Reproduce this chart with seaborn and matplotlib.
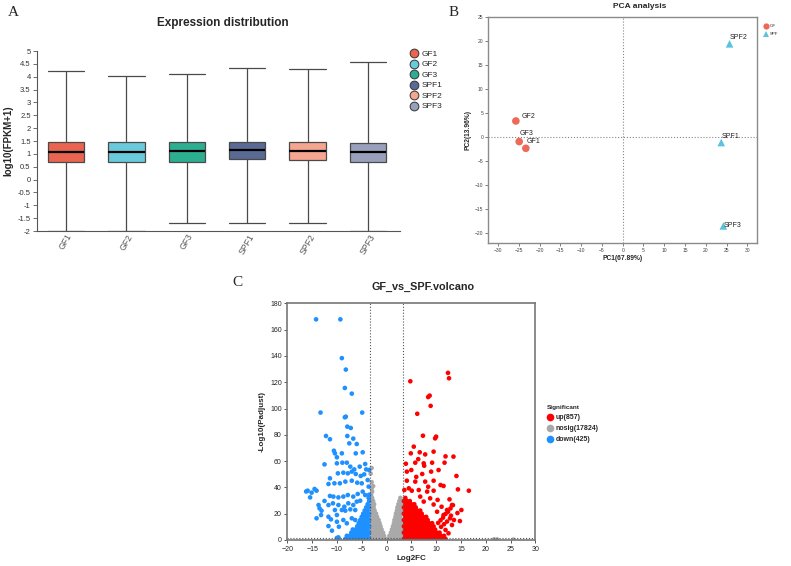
import numpy as np
import pandas as pd
import matplotlib
matplotlib.use('Agg')
import matplotlib.pyplot as plt
import seaborn as sns
from matplotlib.lines import Line2D

sns.set_theme(style='white')
plt.rcParams['font.family'] = ['Liberation Sans', 'DejaVu Sans']

# ---------------- Panel A data: box summary values
samples = ['GF1', 'GF2', 'GF3', 'SPF1', 'SPF2', 'SPF3']
box_min = [-2.0, -2.0, -1.70, -1.70, -1.70, -2.0]
box_q1 = [0.67, 0.67, 0.68, 0.79, 0.78, 0.70]
box_med = [1.08, 1.07, 1.10, 1.15, 1.12, 1.07]
box_q3 = [1.47, 1.47, 1.47, 1.47, 1.46, 1.44]
box_max = [4.22, 4.04, 4.12, 4.34, 4.29, 4.56]
box_colors = ['#E9654F', '#6BC9DC', '#2DAE91', '#596A95', '#F4A690', '#98A0BB']

# ---------------- Panel B data: PCA scores
pca_group = ['GF', 'GF', 'GF', 'SPF', 'SPF', 'SPF']
pc1 = [-23.3, -25.7, -24.9, 23.7, 25.7, 24.2]
pc2 = [-2.3, 3.4, -0.9, -1.1, 19.5, -18.5]

# ---------------- Panel C data: volcano points
up_pts = [
    (4.8, 120.7), (12.4, 127.1), (12.6, 123.0), (8.4, 108.7), (8.7, 109.8), (8.9, 102.0), (6.2, 96.0),
    (7.35, 79.3), (10.0, 78.6), (9.8, 77.3), (5.5, 71.0), (6.7, 66.7), (9.5, 67.2), (4.9, 65.9), (7.8, 65.1),
    (13.5, 63.4), (11.9, 63.6), (5.8, 58.8), (7.5, 58.3), (7.6, 56.5), (9.2, 58.8), (11.7, 58.8), (4.1, 52.0),
    (5.0, 53.2), (7.2, 50.2), (9.0, 52.0), (10.5, 53.2), (14.1, 48.7), (4.1, 45.1), (5.8, 44.4), (7.8, 44.4),
    (9.5, 45.1), (10.9, 41.8), (11.5, 41.1), (3.6, 38.0), (4.5, 39.3), (5.1, 37.5), (6.5, 38.0), (8.2, 36.8),
    (9.5, 37.5), (14.4, 38.5), (16.6, 37.5), (12.7, 30.9), (15.1, 22.8), (13.2, 26.6), (12.2, 22.8),
    (11.5, 19.0), (13.6, 15.2), (14.8, 14.4), (13.2, 11.4), (11.9, 7.6), (12.5, 5.1), (11.1, 25.3),
    (10.2, 21.5), (6.8, 33.0), (8.8, 31.7), (7.5, 29.2), (9.5, 27.0), (10.3, 30.5), (8.4, 40.5), (6.0, 48.0),
    (3.9, 58.0), (6.4, 61.5), (13.0, 18.5), (14.3, 20.5),
    (10.4, 13.0), (10.9, 15.0), (11.4, 17.0), (11.9, 19.8), (12.4, 21.5), (12.9, 24.0), (13.4, 26.5),
    (11.0, 10.0), (11.6, 12.0), (12.2, 14.0), (12.8, 16.5),
    (3.5, 0.8), (4.1, 0.8), (4.7, 0.8), (5.3, 0.8), (5.9, 0.8), (6.5, 0.8), (7.1, 0.8), (7.7, 0.8), (8.3, 0.8),
    (8.9, 0.8), (9.5, 0.8), (10.1, 0.8), (10.7, 0.8), (11.3, 0.8), (11.9, 0.8),
    (3.8, 3.2), (4.4, 3.2), (5.0, 3.2), (5.6, 3.2), (6.2, 3.2), (6.8, 3.2), (7.4, 3.2), (8.0, 3.2), (8.6, 3.2),
    (9.2, 3.2), (9.8, 3.2), (10.4, 3.2), (11.0, 3.2), (11.6, 3.2),
    (3.5, 5.6), (4.1, 5.6), (4.7, 5.6), (5.3, 5.6), (5.9, 5.6), (6.5, 5.6), (7.1, 5.6), (7.7, 5.6), (8.3, 5.6),
    (8.9, 5.6), (9.5, 5.6), (10.1, 5.6), (10.7, 5.6),
    (3.8, 8.0), (4.4, 8.0), (5.0, 8.0), (5.6, 8.0), (6.2, 8.0), (6.8, 8.0), (7.4, 8.0), (8.0, 8.0), (8.6, 8.0),
    (9.2, 8.0), (9.8, 8.0),
    (3.5, 10.4), (4.1, 10.4), (4.7, 10.4), (5.3, 10.4), (5.9, 10.4), (6.5, 10.4), (7.1, 10.4), (7.7, 10.4),
    (8.3, 10.4), (8.9, 10.4), (9.5, 10.4),
    (3.8, 12.8), (4.4, 12.8), (5.0, 12.8), (5.6, 12.8), (6.2, 12.8), (6.8, 12.8), (7.4, 12.8), (8.0, 12.8),
    (8.6, 12.8), (9.2, 12.8),
    (3.5, 15.2), (4.1, 15.2), (4.7, 15.2), (5.3, 15.2), (5.9, 15.2), (6.5, 15.2), (7.1, 15.2), (7.7, 15.2),
    (8.3, 15.2),
    (3.8, 17.6), (4.4, 17.6), (5.0, 17.6), (5.6, 17.6), (6.2, 17.6), (6.8, 17.6), (7.4, 17.6), (8.0, 17.6),
    (3.5, 20.0), (4.1, 20.0), (4.7, 20.0), (5.3, 20.0), (5.9, 20.0), (6.5, 20.0), (7.1, 20.0),
    (3.8, 22.4), (4.4, 22.4), (5.0, 22.4), (5.6, 22.4), (6.2, 22.4), (6.8, 22.4),
    (3.5, 24.8), (4.1, 24.8), (4.7, 24.8), (5.3, 24.8), (5.9, 24.8),
    (3.8, 27.2), (4.4, 27.2), (5.0, 27.2), (5.6, 27.2),
    (3.5, 29.6), (4.1, 29.6), (4.7, 29.6),
    (3.8, 32.0),
]

down_pts = [
    (-14.2, 167.8), (-9.3, 167.8), (-9.0, 138.3), (-8.2, 129.6), (-8.4, 115.6), (-7.0, 111.3), (-13.3, 96.9),
    (-4.9, 96.9), (-8.4, 93.3), (-8.2, 93.8), (-7.9, 86.2), (-7.2, 85.2),
    (-12.2, 79.1), (-11.4, 76.6), (-7.9, 79.1), (-6.7, 77.1), (-7.5, 73.5), (-6.0, 73.0), (-10.6, 67.9),
    (-10.4, 65.9), (-9.0, 65.9), (-6.2, 65.9), (-4.8, 66.7), (-12.5, 57.5), (-10.0, 62.9), (-10.0, 58.3),
    (-8.9, 58.8), (-8.0, 58.8), (-7.3, 55.8), (-6.5, 53.7), (-5.4, 55.8), (-4.3, 57.8), (-4.1, 53.7),
    (-3.5, 53.2), (-9.8, 50.7), (-8.7, 51.2), (-7.8, 50.7), (-7.0, 52.0), (-6.2, 50.2), (-5.2, 48.7),
    (-4.5, 49.9), (-11.4, 46.9), (-11.7, 42.6), (-10.5, 43.1), (-9.4, 43.1), (-8.3, 44.4), (-7.0, 45.1),
    (-5.9, 43.6), (-5.0, 43.1), (-3.8, 45.6), (-3.6, 40.6), (-15.9, 37.5), (-15.1, 36.0), (-14.5, 38.8),
    (-14.1, 37.5), (-15.4, 32.4), (-16.2, 36.9), (-12.5, 29.7), (-11.4, 33.5), (-10.7, 33.0), (-9.7, 32.4),
    (-8.7, 33.0), (-7.8, 34.2), (-6.7, 33.0), (-5.8, 35.0), (-4.8, 36.8), (-4.3, 34.2), (-13.7, 26.6),
    (-13.5, 24.1), (-13.1, 22.3), (-11.7, 26.6), (-10.8, 27.9), (-9.7, 26.6), (-8.5, 25.3), (-7.7, 27.9),
    (-6.7, 26.6), (-6.0, 29.2), (-5.3, 29.9), (-14.1, 16.5), (-13.2, 19.0), (-11.7, 17.7), (-11.2, 15.7),
    (-10.4, 22.8), (-10.0, 19.0), (-9.0, 22.8), (-8.3, 22.3), (-7.3, 23.3), (-6.3, 22.8), (-11.7, 10.6),
    (-11.0, 7.1), (-10.0, 13.9), (-9.6, 10.1), (-8.7, 15.2), (-8.0, 12.7), (-7.0, 16.5), (-6.3, 15.2),
    (-9.7, 2.0), (-10.0, 1.5),
    (-3.5, 0.8), (-4.1, 0.8), (-4.7, 0.8), (-5.3, 0.8), (-5.9, 0.8), (-6.5, 0.8), (-7.1, 0.8), (-7.7, 0.8),
    (-8.3, 0.8),
    (-3.8, 3.2), (-4.4, 3.2), (-5.0, 3.2), (-5.6, 3.2), (-6.2, 3.2), (-6.8, 3.2), (-7.4, 3.2), (-8.0, 3.2),
    (-3.5, 5.6), (-4.1, 5.6), (-4.7, 5.6), (-5.3, 5.6), (-5.9, 5.6), (-6.5, 5.6), (-7.1, 5.6),
    (-3.8, 8.0), (-4.4, 8.0), (-5.0, 8.0), (-5.6, 8.0), (-6.2, 8.0), (-6.8, 8.0),
    (-3.5, 10.4), (-4.1, 10.4), (-4.7, 10.4), (-5.3, 10.4), (-5.9, 10.4),
    (-3.8, 12.8), (-4.4, 12.8), (-5.0, 12.8), (-5.6, 12.8),
    (-3.5, 15.2), (-4.1, 15.2), (-4.7, 15.2), (-5.3, 15.2),
    (-3.8, 17.6), (-4.4, 17.6), (-5.0, 17.6),
    (-3.5, 20.0), (-4.1, 20.0), (-4.7, 20.0),
    (-3.8, 22.4), (-4.4, 22.4),
    (-3.5, 24.8), (-4.1, 24.8),
    (-3.8, 27.2), (-3.5, 29.6), (-3.6, 32.0), (-3.5, 34.4),
]

nosig_pts = [
    (-3.1, 0.8), (-2.6, 0.8), (-2.1, 0.8), (-1.6, 0.8), (-1.1, 0.8), (-0.6, 0.8), (-0.2, 0.8),
    (-2.9, 3.2), (-2.4, 3.2), (-1.9, 3.2), (-1.4, 3.2), (-0.9, 3.2), (-0.5, 3.2),
    (-3.1, 5.6), (-2.6, 5.6), (-2.1, 5.6), (-1.6, 5.6), (-1.1, 5.6), (-0.7, 5.6),
    (-2.9, 8.0), (-2.4, 8.0), (-1.9, 8.0), (-1.4, 8.0), (-1.0, 8.0),
    (-3.1, 10.4), (-2.6, 10.4), (-2.1, 10.4), (-1.6, 10.4), (-1.2, 10.4),
    (-2.9, 12.8), (-2.4, 12.8), (-1.9, 12.8), (-1.4, 12.8),
    (-3.1, 15.2), (-2.6, 15.2), (-2.1, 15.2), (-1.6, 15.2),
    (-2.9, 17.6), (-2.4, 17.6), (-1.9, 17.6),
    (-3.1, 20.0), (-2.6, 20.0), (-2.1, 20.0),
    (-2.9, 22.4), (-2.4, 22.4),
    (-3.1, 24.8), (-2.6, 24.8),
    (-2.9, 27.2), (-2.5, 27.2),
    (-3.1, 29.6), (-2.7, 29.6),
    (-2.9, 32.0), (-3.1, 34.4), (-2.9, 36.8), (-3.0, 39.2), (-2.7, 41.0),
    (-3.0, 54.7), (-3.2, 50.5), (-3.0, 44.0),
    (0.3, 0.8), (0.8, 0.8), (1.3, 0.8), (1.8, 0.8), (2.3, 0.8), (2.8, 0.8), (3.1, 0.8),
    (0.6, 3.2), (1.1, 3.2), (1.6, 3.2), (2.1, 3.2), (2.6, 3.2), (3.0, 3.2),
    (0.9, 5.6), (1.4, 5.6), (1.9, 5.6), (2.4, 5.6), (2.9, 5.6),
    (1.1, 8.0), (1.6, 8.0), (2.1, 8.0), (2.6, 8.0), (3.0, 8.0),
    (1.3, 10.4), (1.8, 10.4), (2.3, 10.4), (2.8, 10.4),
    (1.5, 12.8), (2.0, 12.8), (2.5, 12.8), (3.0, 12.8),
    (1.6, 15.2), (2.1, 15.2), (2.6, 15.2), (3.0, 15.2),
    (1.8, 17.6), (2.3, 17.6), (2.8, 17.6),
    (1.9, 20.0), (2.4, 20.0), (2.9, 20.0),
    (2.1, 22.4), (2.6, 22.4), (3.0, 22.4),
    (2.2, 24.8), (2.7, 24.8),
    (2.4, 27.2), (2.9, 27.2),
    (2.6, 29.6), (3.0, 29.6), (2.8, 32.0),
    (21.7, 0.5), (22.3, 0.4), (25.6, 0.3), (-6.0, 0.3), (-9.5, 0.5),
]
sig_labels = {'up': 'up(857)', 'nosig': 'nosig(17824)', 'down': 'down(425)'}
sig_colors = {'up': '#FF0000', 'nosig': '#A9A9A9', 'down': '#1E90FF'}

# ---------------- figure
W, H = 791, 566
fig = plt.figure(figsize=(W / 100, H / 100), dpi=100)


def axrect(l, t, r, b):
    return [l / W, 1 - b / H, (r - l) / W, (b - t) / H]


# ===== Panel A =====
axA = fig.add_axes(axrect(37, 51, 400, 231))
rows = []
for s, a, b, c, d, e in zip(samples, box_min, box_q1, box_med, box_q3, box_max):
    for v in (a, b, c, d, e):
        rows.append((s, v))
dfA = pd.DataFrame(rows, columns=['sample', 'value'])
sns.boxplot(data=dfA, x='sample', y='value', hue='sample', order=samples, hue_order=samples,
            palette=box_colors, saturation=1, width=0.6, whis=(0, 100), showfliers=False, dodge=False,
            linecolor='#4a4a4a', linewidth=0.9, legend=False, ax=axA,
            medianprops=dict(color='black', linewidth=1.6))
for ln in axA.lines:
    xd = np.asarray(ln.get_xdata(), dtype=float)
    yd = np.asarray(ln.get_ydata(), dtype=float)
    if len(xd) == 2 and yd[0] == yd[1] and xd[0] != xd[1]:
        c = xd.mean()
        ln.set_xdata([c - 0.3, c + 0.3])
axA.set_xlim(-0.48, 5.53)
axA.set_ylim(-2, 5)
yt = np.arange(-2, 5.01, 0.5)
axA.set_yticks(yt)
axA.set_yticklabels([f'{v:g}' for v in yt])
axA.set_xticks(range(len(samples)))
axA.set_xticklabels(samples, rotation=60, ha='center')
for sp in ['top', 'right']:
    axA.spines[sp].set_visible(False)
for sp in ['left', 'bottom']:
    axA.spines[sp].set_color('#555555')
    axA.spines[sp].set_linewidth(0.8)
axA.tick_params(axis='y', direction='out', length=3, width=0.6, color='#555555',
                labelsize=5.5, labelcolor='#333333', pad=1.5, left=True)
axA.tick_params(axis='x', length=0, labelsize=6.2, labelcolor='#555555', pad=1)
axA.set_xlabel('')
axA.set_ylabel('log10(FPKM+1)', fontsize=7, fontweight='bold', labelpad=3)

fig.text(223 / W, 1 - 23 / H, 'Expression distribution', ha='center', va='center',
         fontsize=8.5, fontweight='bold')
handlesA = [Line2D([], [], marker='o', linestyle='', markersize=6.3, markerfacecolor=c,
                   markeredgecolor='#333333', markeredgewidth=0.7) for c in box_colors]
fig.legend(handlesA, samples, loc='upper left', bbox_to_anchor=(405 / W, 1 - 46 / H),
           frameon=False, fontsize=6, handletextpad=0.35, labelspacing=0.32,
           borderpad=0, handlelength=1.1)

# ===== Panel B =====
axB = fig.add_axes(axrect(488, 17, 757, 242.7))
dfB = pd.DataFrame({'sample': samples, 'group': pca_group, 'pc1': pc1, 'pc2': pc2})
pca_colors = {'GF': '#EE6A58', 'SPF': '#5BC3DD'}
axB.axhline(0, ls=':', color='#888888', lw=0.8, zorder=0)
axB.axvline(0, ls=':', color='#888888', lw=0.8, zorder=0)
sns.scatterplot(data=dfB, x='pc1', y='pc2', hue='group', style='group',
                markers={'GF': 'o', 'SPF': '^'}, palette=pca_colors, s=30, linewidth=0,
                legend=False, ax=axB)
label_offsets = {'GF1': (0.3, 1.5), 'GF2': (1.4, 1.0), 'GF3': (0.2, 1.6), 'SPF1': (0.0, 1.2),
                 'SPF2': (0.0, 1.4), 'SPF3': (0.2, 0.1)}
for s, x, y in zip(samples, pc1, pc2):
    dx, dy = label_offsets[s]
    axB.text(x + dx, y + dy, s, fontsize=5, ha='left', va='center', color='#222222')
axB.set_xlim(-32.4, 32.3)
axB.set_ylim(-22, 25.1)
axB.set_xticks(range(-30, 31, 5))
axB.set_yticks(range(-20, 26, 5))
for sp in axB.spines.values():
    sp.set_color('#8a8a8a')
    sp.set_linewidth(1.0)
axB.tick_params(direction='out', length=2, width=0.6, color='#666666', labelsize=3.6,
                labelcolor='#444444', pad=1.5, left=True, bottom=True)
axB.set_xlabel('PC1(67.89%)', fontsize=4.8, fontweight='bold', labelpad=2)
axB.set_ylabel('PC2(13.96%)', fontsize=4.8, fontweight='bold', labelpad=2)
fig.text(640 / W, 1 - 6 / H, 'PCA analysis', ha='center', va='center', fontsize=6,
         fontweight='bold')
handlesB = [Line2D([], [], marker='o', linestyle='', markersize=4.5, markerfacecolor=pca_colors['GF'],
                   markeredgewidth=0),
            Line2D([], [], marker='^', linestyle='', markersize=4.5, markerfacecolor=pca_colors['SPF'],
                   markeredgewidth=0)]
fig.legend(handlesB, ['GF', 'SPF'], loc='upper left', bbox_to_anchor=(762 / W, 1 - 22 / H),
           frameon=False, fontsize=3.2, handletextpad=0.3, labelspacing=0.9, borderpad=0,
           handlelength=1.0)

# ===== Panel C =====
axC = fig.add_axes(axrect(287.3, 303.3, 535.3, 540))
recs = [('nosig', x, y) for x, y in nosig_pts] + [('down', x, y) for x, y in down_pts] + \
       [('up', x, y) for x, y in up_pts]
dfC = pd.DataFrame(recs, columns=['sig', 'log2fc', 'padj'])
sns.scatterplot(data=dfC, x='log2fc', y='padj', hue='sig', palette=sig_colors, s=11,
                linewidth=0, legend=False, ax=axC)
axC.axvline(-3.32, ls=':', color='#555555', lw=0.8)
axC.axvline(3.32, ls=':', color='#555555', lw=0.8)
axC.axhline(1.3, ls=':', color='#555555', lw=0.8)
axC.set_xlim(-20, 30)
axC.set_ylim(0, 180)
axC.set_xticks(range(-20, 31, 5))
axC.set_yticks(range(0, 181, 20))
for sp in axC.spines.values():
    sp.set_color('#777777')
    sp.set_linewidth(1.2)
axC.tick_params(direction='out', length=2.5, width=0.7, color='#555555', labelsize=5,
                labelcolor='#222222', pad=1.5, left=True, bottom=True)
axC.set_xlabel('Log2FC', fontsize=5.8, fontweight='bold', labelpad=2)
axC.set_ylabel('-Log10(Padjust)', fontsize=5.8, fontweight='bold', labelpad=3)
fig.text(423 / W, 1 - 287 / H, 'GF_vs_SPF.volcano', ha='center', va='center', fontsize=7.8,
         fontweight='bold')
handlesC = [Line2D([], [], marker='o', linestyle='', markersize=5.5, markerfacecolor=sig_colors[k],
                   markeredgewidth=0) for k in ['up', 'nosig', 'down']]
fig.legend(handlesC, [sig_labels[k] for k in ['up', 'nosig', 'down']], title='Significant',
           loc='upper left', bbox_to_anchor=(543 / W, 1 - 402 / H), frameon=False,
           prop={'weight': 'bold', 'size': 5}, title_fontproperties={'weight': 'bold', 'size': 4.6},
           handletextpad=0.35, labelspacing=0.55, borderpad=0, handlelength=1.0, alignment='left')

# ===== panel letters =====
for lab, x, y in [('A', 13, 12), ('B', 454, 12), ('C', 237, 283)]:
    fig.text(x / W, 1 - y / H, lab, ha='center', va='center', fontsize=11,
             family='Liberation Serif')

fig.savefig('out.png', dpi=100)
